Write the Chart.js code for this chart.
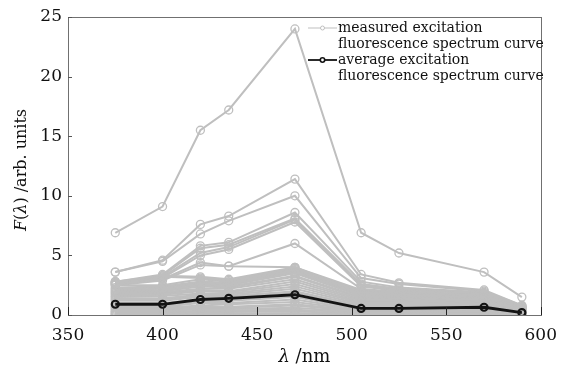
<!DOCTYPE html>
<html>
<head>
<meta charset="utf-8">
<script src="https://cdn.jsdelivr.net/npm/chart.js@4/dist/chart.umd.min.js"></script>
<style>
  html, body { margin: 0; padding: 0; background: #fff; }
  #wrap { width: 567px; height: 368px; }
</style>
</head>
<body>
<div id="wrap"><canvas id="spectra" width="567" height="368"></canvas></div>
<script>
// excitation wavelengths (nm)
const wavelengths = [375, 400, 420, 435, 470, 505, 525, 570, 590];

// measured curves (arb. units)
const measuredCurves = [
  [6.9, 9.1, 15.5, 17.2, 24.0, 6.9, 5.2, 3.6, 1.5],
  [3.6, 4.6, 7.6, 8.3, 11.4, 3.4, 2.7, 2.1, 0.8],
  [3.6, 4.5, 6.8, 7.9, 10.0, 3.1, 2.6, 2.0, 0.8],
  [2.8, 3.4, 5.8, 6.1, 8.6, 2.8, 2.3, 1.9, 0.7],
  [2.7, 3.3, 5.6, 5.9, 8.1, 2.6, 2.2, 1.8, 0.7],
  [2.7, 3.2, 5.2, 5.7, 8.0, 2.5, 2.1, 1.8, 0.6],
  [2.6, 3.1, 5.0, 5.5, 7.8, 2.4, 2.0, 1.7, 0.6],
  [2.6, 3.0, 4.4, 4.1, 6.0, 2.2, 1.9, 1.6, 0.6],
  [2.5, 2.9, 4.2, 4.1, 4.0, 1.9, 1.7, 1.5, 0.5],
  [2.8, 3.3, 3.2, 3.0, 4.0, 2.1, 1.9, 1.7, 0.6],
  [2.7, 3.2, 3.1, 2.9, 3.9, 2.0, 1.8, 1.6, 0.6],
  [2.5, 2.5, 3.0, 2.8, 3.8, 1.9, 1.7, 1.5, 0.5],
  [2.3, 2.4, 2.8, 2.7, 3.7, 1.8, 1.6, 1.5, 0.5],
  [2.2, 2.3, 2.7, 2.6, 3.6, 1.7, 1.6, 1.4, 0.5],
  [2.1, 2.2, 2.6, 2.5, 3.5, 1.6, 1.5, 1.4, 0.5],
  [2.0, 2.1, 2.5, 2.4, 3.3, 1.5, 1.4, 1.3, 0.4],
  [1.9, 2.0, 2.4, 2.3, 3.2, 1.4, 1.4, 1.3, 0.4],
  [1.8, 1.9, 2.2, 2.2, 3.0, 1.3, 1.3, 1.2, 0.4],
  [1.7, 1.8, 2.1, 2.0, 2.8, 1.2, 1.2, 1.1, 0.4],
  [1.6, 1.7, 2.0, 1.9, 2.6, 1.1, 1.1, 1.1, 0.3],
  [1.5, 1.6, 1.8, 1.8, 2.4, 1.0, 1.0, 1.0, 0.3],
  [1.4, 1.4, 1.7, 1.7, 2.2, 0.9, 0.9, 0.9, 0.3],
  [1.3, 1.3, 1.6, 1.6, 2.0, 0.8, 0.8, 0.9, 0.3],
  [1.2, 1.2, 1.5, 1.5, 1.9, 0.7, 0.7, 0.8, 0.3],
  [1.0, 1.0, 1.3, 1.3, 1.7, 0.6, 0.6, 0.7, 0.25],
  [0.8, 0.8, 1.1, 1.2, 1.5, 0.5, 0.5, 0.6, 0.2],
  [0.7, 0.7, 1.0, 1.0, 1.3, 0.45, 0.45, 0.55, 0.2],
  [0.6, 0.6, 0.8, 0.9, 1.1, 0.4, 0.4, 0.5, 0.15],
  [0.5, 0.5, 0.7, 0.7, 0.9, 0.35, 0.35, 0.4, 0.15],
  [0.4, 0.4, 0.6, 0.6, 0.8, 0.3, 0.3, 0.35, 0.1],
  [0.3, 0.3, 0.5, 0.5, 0.6, 0.25, 0.25, 0.3, 0.1],
  [0.25, 0.25, 0.35, 0.4, 0.45, 0.2, 0.2, 0.25, 0.08],
  [0.15, 0.15, 0.25, 0.25, 0.3, 0.15, 0.15, 0.15, 0.05],
  [0.08, 0.08, 0.12, 0.12, 0.15, 0.08, 0.08, 0.08, 0.03],
  [0.02, 0.02, 0.03, 0.03, 0.04, 0.02, 0.02, 0.02, 0.01]
];

// average curve
const averageCurve = [0.9, 0.9, 1.3, 1.4, 1.7, 0.55, 0.55, 0.65, 0.2];

const xTicks = [350, 400, 450, 500, 550, 600];
const yTicks = [0, 5, 10, 15, 20, 25];

const legendLabels = [
  ['measured excitation', 'fluorescence spectrum curve'],
  ['average excitation', 'fluorescence spectrum curve']
];

const GRAY = '#bfbfbf';
const BLACK = '#141414';
const SERIF = '"DejaVu Serif", serif';

function toPoints(vals) {
  return wavelengths.map((w, i) => ({ x: w, y: vals[i] }));
}

const datasets = [{
  label: 'average',
  data: toPoints(averageCurve),
  borderColor: BLACK,
  borderWidth: 2.8,
  pointRadius: 3.5,
  pointBorderWidth: 2.2,
  pointBorderColor: BLACK,
  pointBackgroundColor: 'rgba(0,0,0,0)',
  order: 0
}];
measuredCurves.forEach((c, i) => {
  datasets.push({
    label: 'measured ' + (i + 1),
    data: toPoints(c),
    borderColor: GRAY,
    borderWidth: 2,
    pointRadius: 4,
    pointBorderWidth: 1.3,
    pointBorderColor: GRAY,
    pointBackgroundColor: 'rgba(0,0,0,0)',
    order: 1
  });
});

// text pieces with italic parts
function drawRich(ctx, parts, size) {
  let total = 0;
  parts.forEach(p => {
    ctx.font = (p[1] ? 'italic ' : '') + size + 'px ' + SERIF;
    total += ctx.measureText(p[0]).width;
  });
  let x = -total / 2;
  parts.forEach(p => {
    ctx.font = (p[1] ? 'italic ' : '') + size + 'px ' + SERIF;
    ctx.fillText(p[0], x, 0);
    x += ctx.measureText(p[0]).width;
  });
}

const framePlugin = {
  id: 'frame',
  afterDraw(chart) {
    const { ctx, chartArea: a, scales } = chart;
    ctx.save();
    // box
    ctx.strokeStyle = '#707070';
    ctx.lineWidth = 1;
    ctx.strokeRect(Math.round(a.left) + 0.5, Math.round(a.top) + 0.5,
      Math.round(a.right - a.left), Math.round(a.bottom - a.top));
    // inward ticks
    ctx.strokeStyle = '#222';
    xTicks.forEach(t => {
      const px = Math.round(scales.x.getPixelForValue(t)) + 0.5;
      ctx.beginPath();
      ctx.moveTo(px, a.bottom);
      ctx.lineTo(px, a.bottom - 8);
      ctx.stroke();
    });
    ctx.strokeStyle = '#555';
    yTicks.forEach(t => {
      const py = Math.round(scales.y.getPixelForValue(t)) + 0.5;
      ctx.beginPath();
      ctx.moveTo(a.left, py);
      ctx.lineTo(a.left + 4, py);
      ctx.stroke();
    });

    // axis titles
    ctx.fillStyle = '#111';
    ctx.textBaseline = 'middle';
    ctx.save();
    ctx.translate((a.left + a.right) / 2, 357);
    drawRich(ctx, [['λ', true], [' /nm', false]], 18);
    ctx.restore();
    ctx.save();
    ctx.translate(22, (a.top + a.bottom) / 2 + 4);
    ctx.rotate(-Math.PI / 2);
    drawRich(ctx, [['F', true], ['(', false], ['λ', true], [') /arb. units', false]], 16);
    ctx.restore();

    // legend
    const lx0 = 308, lx1 = 337, tx = 338;
    const rows = [28, 60];
    const styles = [
      { color: GRAY, lw: 1, r: 2, pw: 1 },
      { color: BLACK, lw: 1.8, r: 2.2, pw: 1.6 }
    ];
    ctx.textAlign = 'left';
    ctx.font = '14px ' + SERIF;
    rows.forEach((y, i) => {
      const s = styles[i];
      ctx.strokeStyle = s.color;
      ctx.lineWidth = s.lw;
      ctx.beginPath();
      ctx.moveTo(lx0, y);
      ctx.lineTo(lx1, y);
      ctx.stroke();
      ctx.fillStyle = '#fff';
      ctx.lineWidth = s.pw;
      ctx.beginPath();
      ctx.arc((lx0 + lx1) / 2, y, s.r, 0, Math.PI * 2);
      ctx.fill();
      ctx.stroke();
      ctx.fillStyle = '#111';
      legendLabels[i].forEach((line, k) => {
        ctx.fillText(line, tx, y + k * 16);
      });
    });
    ctx.restore();
  }
};

new Chart(document.getElementById('spectra'), {
  type: 'line',
  data: { datasets },
  options: {
    responsive: false,
    animation: false,
    devicePixelRatio: 1,
    layout: { padding: { left: 0, right: 26, top: 17, bottom: 0 } },
    plugins: { legend: { display: false }, tooltip: { enabled: false } },
    elements: { line: { tension: 0 } },
    scales: {
      x: {
        type: 'linear',
        min: 350,
        max: 600,
        afterBuildTicks: s => { s.ticks = xTicks.map(v => ({ value: v })); },
        afterFit: s => { s.height = 53; },
        grid: { display: false, drawTicks: false },
        border: { display: false },
        ticks: {
          padding: 10,
          color: '#111',
          font: { family: SERIF, size: 17 },
          maxRotation: 0
        }
      },
      y: {
        min: 0,
        max: 25,
        afterBuildTicks: s => { s.ticks = yTicks.map(v => ({ value: v })); },
        afterFit: s => { s.width = 68; },
        grid: { display: false, drawTicks: false },
        border: { display: false },
        ticks: {
          padding: 6,
          color: '#111',
          font: { family: SERIF, size: 17 }
        }
      }
    }
  },
  plugins: [framePlugin]
});
</script>
</body>
</html>
